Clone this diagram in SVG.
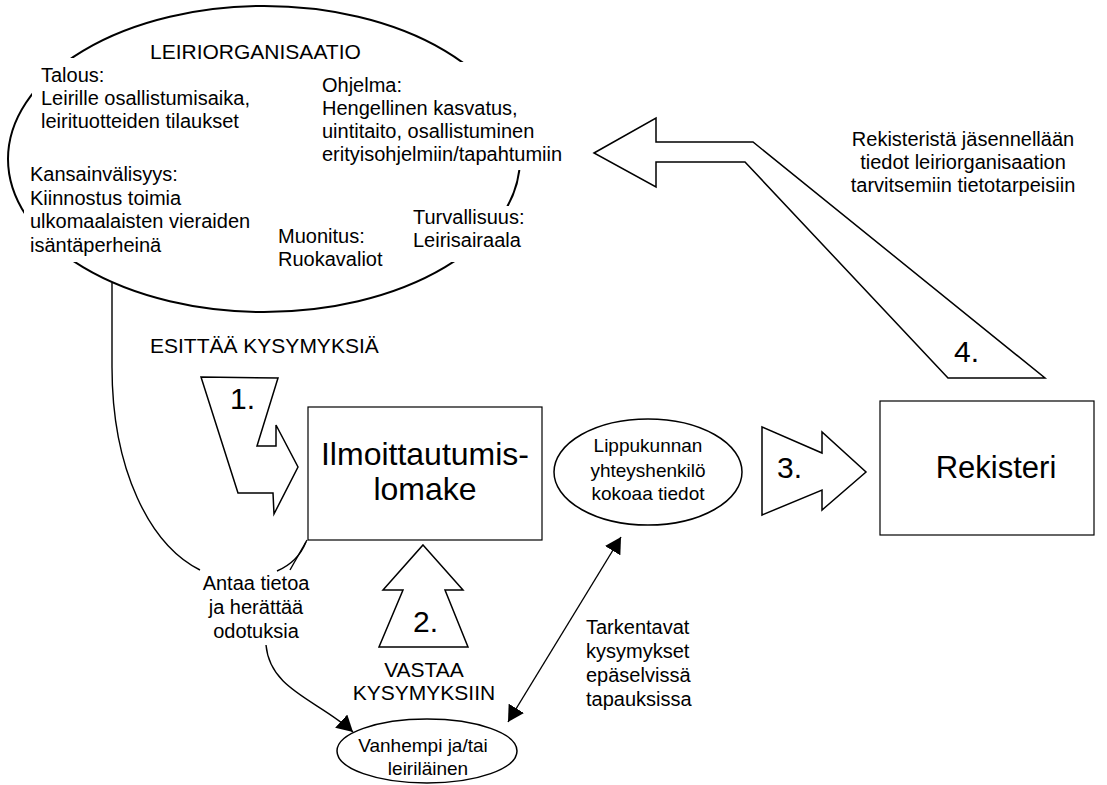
<svg xmlns="http://www.w3.org/2000/svg" width="1107" height="785" viewBox="0 0 1107 785">
<defs>
<style>
text{font-family:"Liberation Sans",Arial,sans-serif;fill:#000}
.t{font-size:20px}
.cap{font-size:21px}
.big{font-size:32px}
.num{font-size:30px}
.sm{font-size:19px}
.shape{fill:#fff;stroke:#000;stroke-width:1.5}
.box{fill:#fff;stroke:#000;stroke-width:1.2}
.bg{fill:#fff;stroke:none}
.line{fill:none;stroke:#000;stroke-width:1.4}
.mid{text-anchor:middle}
</style>
<marker id="ah" viewBox="0 0 16 18" refX="16" refY="9" markerWidth="16" markerHeight="18" markerUnits="userSpaceOnUse" orient="auto-start-reverse">
<path d="M0,0 L16,9 L0,18 Z" fill="#000"/>
</marker>
</defs>
<rect width="1107" height="785" fill="#fff"/>

<g id="leiriorganisaatio">
<ellipse cx="264" cy="159" rx="256" ry="153" fill="#fff" stroke="#000" stroke-width="2"/>
<rect class="bg" x="32" y="58" width="230" height="78"/>
<rect class="bg" x="315" y="62" width="250" height="108"/>
<rect class="bg" x="405" y="206" width="160" height="56"/>
<rect class="bg" x="24" y="163" width="238" height="99"/>
<text class="cap" x="150" y="59">LEIRIORGANISAATIO</text>
<text class="t" x="41" y="82">Talous:</text>
<text class="t" x="41" y="105">Leirille osallistumisaika,</text>
<text class="t" x="41" y="128">leirituotteiden tilaukset</text>
<text class="t" x="322" y="92">Ohjelma:</text>
<text class="t" x="322" y="115">Hengellinen kasvatus,</text>
<text class="t" x="322" y="138">uintitaito, osallistuminen</text>
<text class="t" x="322" y="161">erityisohjelmiin/tapahtumiin</text>
<text class="t" x="30" y="181">Kansainvälisyys:</text>
<text class="t" x="30" y="205">Kiinnostus toimia</text>
<text class="t" x="30" y="228">ulkomaalaisten vieraiden</text>
<text class="t" x="30" y="252">isäntäperheinä</text>
<text class="t" x="278" y="243">Muonitus:</text>
<text class="t" x="278" y="266">Ruokavaliot</text>
<text class="t" x="413" y="224">Turvallisuus:</text>
<text class="t" x="413" y="247">Leirisairaala</text>
</g>

<g id="lomake">
<rect class="box" x="308" y="407" width="234" height="133"/>
<text class="big mid" x="425" y="465">Ilmoittautumis-</text>
<text class="big mid" x="425" y="500">lomake</text>
</g>

<g id="lippukunta">
<ellipse cx="648" cy="472" rx="94" ry="53" class="shape" stroke-width="1.3"/>
<text class="sm mid" x="648" y="452">Lippukunnan</text>
<text class="sm mid" x="648" y="477">yhteyshenkilö</text>
<text class="sm mid" x="648" y="500">kokoaa tiedot</text>
</g>

<g id="rekisteri">
<rect class="box" x="880" y="401" width="214" height="134"/>
<text class="mid" x="996" y="478" font-size="31">Rekisteri</text>
</g>

<g id="vanhempi">
<ellipse cx="427" cy="751" rx="90" ry="32" class="shape" stroke-width="1.3"/>
<text class="sm mid" x="423" y="752">Vanhempi ja/tai</text>
<text class="sm mid" x="428" y="775">leiriläinen</text>
</g>

<g id="arrow1">
<polygon class="shape" points="201,377 278,378 257,446 276,446 276,425 298,467 274,514 273,493 238,493"/>
<text class="num" x="230" y="409">1.</text>
<text class="cap" x="150" y="353">ESITTÄÄ KYSYMYKSIÄ</text>
</g>

<g id="arrow2">
<polygon class="shape" points="423,545 463,590 445,590 468,647 379,647 403,590 383,590"/>
<text class="num" x="413" y="632">2.</text>
<text class="cap mid" x="424" y="677">VASTAA</text>
<text class="cap mid" x="424" y="700">KYSYMYKSIIN</text>
</g>

<g id="arrow3">
<polygon class="shape" points="762,427 822,453 822,432 866,472 822,510 822,490 762,515"/>
<text class="num" x="777" y="478">3.</text>
</g>

<g id="arrow4">
<polygon class="shape" points="594,153 656,118 656,142 753,142 1045,378 948,378 745,162 656,162 656,187"/>
<text class="num" x="954" y="362">4.</text>
<text class="t mid" x="963" y="146">Rekisteristä jäsennellään</text>
<text class="t mid" x="963" y="169">tiedot leiriorganisaation</text>
<text class="t mid" x="963" y="192">tarvitsemiin tietotarpeisiin</text>
</g>

<g id="connectors">
<path class="line" d="M112,283 L112,367 C112,470 150,545 200,570"/>
<path class="line" d="M307,540 L290,570"/>
<path class="line" d="M306,542 Q298,562 277,571"/>
<path class="line" d="M266,645 C270,690 318,700 353,732" marker-end="url(#ah)"/>
<path class="line" d="M508,722 L621,537" marker-start="url(#ah)" marker-end="url(#ah)"/>
</g>

<g id="labels">
<text class="t mid" x="256" y="590">Antaa tietoa</text>
<text class="t mid" x="256" y="614">ja herättää</text>
<text class="t mid" x="256" y="638">odotuksia</text>
<text class="t" x="586" y="634">Tarkentavat</text>
<text class="t" x="586" y="658">kysymykset</text>
<text class="t" x="586" y="682">epäselvissä</text>
<text class="t" x="586" y="706">tapauksissa</text>
</g>
</svg>
